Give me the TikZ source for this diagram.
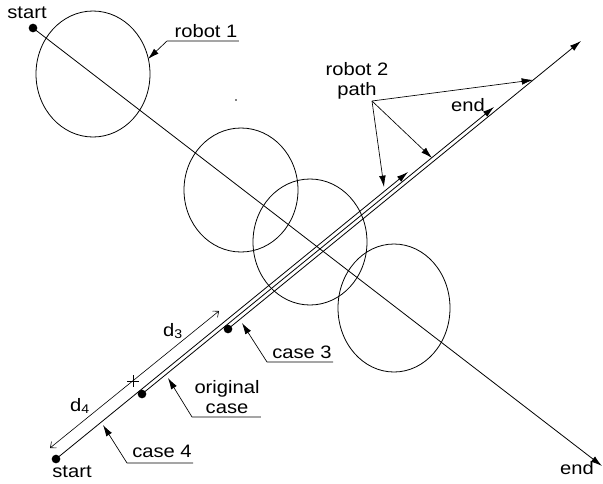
\documentclass[tikz,border=0pt]{standalone}
\usepackage{fontspec}
\setmainfont{Liberation Sans}[FakeStretch=1.12]
\usetikzlibrary{arrows.meta}

\tikzset{
  tip/.style={-{Latex[length=8.5pt,width=5pt]}},
  lead/.style={tip, line width=0.5pt},
  dimarr/.style={{Straight Barb[length=3.5pt,width=6pt]}-{Straight Barb[length=3.5pt,width=6pt]}, line width=0.45pt},
  spot/.style={circle, fill, inner sep=0pt, minimum size=6.5pt},
  lbl/.style={inner sep=0.75pt, font=\fontsize{13.5}{15.5}\selectfont}
}

\begin{document}
\begin{tikzpicture}[x=0.75pt,y=0.75pt,yscale=-1,xscale=1,line width=0.6pt]
\useasboundingbox (0,0) rectangle (603,483);

%Robot 1 path
\node[spot] (r1s) at (33,28) {};
\coordinate (r1e) at (602,466);
\draw[tip] (r1s.center) -- (r1e);

%Shape: Ellipse [robot 1 positions]
\draw (93,74) ellipse [x radius=57, y radius=63];
\draw (241,190) ellipse [x radius=57, y radius=62];
\draw (310,242) ellipse [x radius=57, y radius=63];
\draw (394,308) ellipse [x radius=56, y radius=64];
\fill (236,100) circle [radius=0.9];

%Robot 2 paths
\node[spot] (c4s) at (56,459) {};
\coordinate (c4e) at (408,172);
\node[spot] (ors) at (142,394) {};
\coordinate (ore) at (494,107);
\node[spot] (c3s) at (228,329) {};
\coordinate (c3e) at (581,41);
\draw[tip] (c4s.center) -- (c4e);
\draw[tip] (ors.center) -- (ore);
\draw[tip] (c3s.center) -- (c3e);

%Dimension line
\coordinate (d0) at (50,448);
\coordinate (dm) at (133,381);
\coordinate (d1) at (219,311);
\draw[dimarr] (d0) -- (d1);
\draw[line width=0.45pt] (dm) +(-6,0) -- +(6,0) (dm) +(0,-6) -- +(0,6);

% Text Node
\node[lbl] (tst1) at (27,13) {start};
% Text Node
\node[lbl] (tst2) at (72,472) {start};
% Text Node
\node[lbl] (ten1) at (577,468) {end};
% Text Node
\node[lbl] (ten2) at (468,105) {end};
% Text Node
\node[lbl] (td3) at (173,331) {d\textsubscript{3}};
% Text Node
\node[lbl] (td4) at (80,406) {d\textsubscript{4}};

%Leader: robot 1
\node[lbl] (tr1) at (206,31) {robot 1};
\coordinate (u1) at (167,41);
\coordinate (p1) at (148,59);
\draw[lead] (u1 -| tr1.east) -- (u1) -- (p1);

%Leader: robot 2 path
\node[lbl, align=center] (tr2) at (357,81) {robot 2\\path};
\coordinate (hub) at (372,101);
\coordinate (q1) at (384,187);
\coordinate (q2) at (432,158);
\coordinate (q3) at (533,80);
\draw[lead] (hub) -- (q1);
\draw[lead] (hub) -- (q2);
\draw[lead] (hub) -- (q3);

%Leader: case 3
\node[lbl] (tc3) at (302,352) {case 3};
\coordinate (u3) at (267,362);
\coordinate (p3) at (242,323);
\draw[lead] (u3 -| tc3.east) -- (u3) -- (p3);

%Leader: original case
\node[lbl, align=center] (toc) at (227,397) {original\\case};
\coordinate (u0) at (192,417);
\coordinate (p0) at (168,378);
\draw[lead] (u0 -| toc.east) -- (u0) -- (p0);

%Leader: case 4
\node[lbl] (tc4) at (162,451) {case 4};
\coordinate (u4) at (127,463);
\coordinate (p4) at (103,425);
\draw[lead] (u4 -| tc4.east) -- (u4) -- (p4);

\end{tikzpicture}
\end{document}
